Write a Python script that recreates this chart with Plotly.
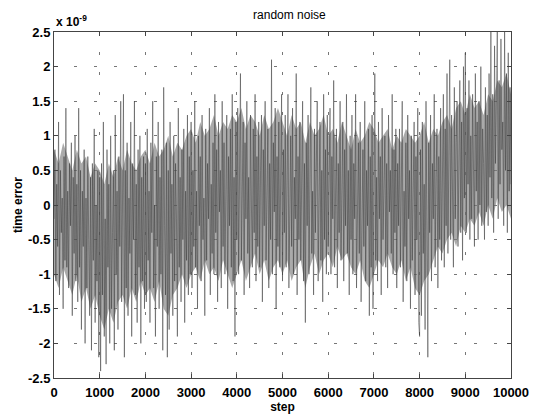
import plotly.graph_objects as go

err_0_2500 = [
    -0.2, 0.8, -1.1, 0.3, -0.6, 1.2, -1.3, 0.5, -0.4, 0.1, -1.5, 0.7, -0.8, 1.4, -0.9, 0.2, -1.2, 0.6, -0.3, 0.9, -1.6, 0.4, -0.7, 1.0, -1.1,
    0.3, -1.4, 1.4, -0.9, 0.5, -1.8, 0.2, -0.6, 0.8, -2.0, 0.1, -1.2, 0.7, -0.5, -1.6, 0.4, -2.1, 0.6, -0.8, 1.1, -1.7, 0.0, -1.1, 0.5, -2.2,
    0.4, -2.4, 0.6, -1.3, 1.2, -1.9, -0.2, -2.3, 0.8, -0.9, 0.3, -2.0, 1.0, -1.5, -0.4, 0.5, -2.1, 1.3, -1.0, 0.2, -1.8, 0.7, -0.6, 1.5, -1.4,
    -0.3, 1.6, -2.2, 0.5, -1.2, 0.9, -1.6, 0.1, -0.7, 1.2, -1.9, 0.6, -0.5, 1.5, -1.3, 0.3, -1.7, 0.8, -0.9, 1.0, -2.0, 0.4, -1.1, 0.7, -1.5,
    0.6, -1.4, 1.1, -0.8, 0.2, -1.7, 0.9, -0.4, 1.5, -1.2, 0.0, -1.9, 0.7, -0.6, 1.2, -1.5, 0.4, -1.0, 0.8, -2.1, 1.7, -0.3, -1.3, 0.9, -2.2,
]
err_2500_5000 = [
    0.5, -1.8, 1.2, -0.7, 0.3, -1.6, 1.0, -1.1, 0.6, -0.2, -1.9, 1.4, -0.9, 0.4, -1.4, 0.8, -0.5, 1.1, -1.7, 0.2, -0.8, 1.3, -1.3, 0.7, -1.0,
    1.2, -1.2, 0.5, -0.6, 1.5, -0.9, 0.2, -1.5, 1.0, -0.3, 0.7, -1.1, 1.3, -0.5, 0.1, -1.6, 1.1, -0.8, 0.6, -0.2, 1.4, -1.3, 0.3, -0.7, 0.9,
    -1.0, 1.6, -0.4, 0.8, -1.4, 1.2, -0.1, 0.5, -1.2, 1.5, -0.6, 0.9, -1.0, 0.3, 1.3, -1.5, 0.7, -0.3, 1.1, -0.9, 1.6, -1.1, 0.4, -1.9, 1.2,
    -0.5, 1.4, -1.0, 0.6, 1.9, -0.8, 0.2, 1.2, -1.3, 0.9, -0.2, 1.5, -0.7, 0.4, -1.2, 1.3, 0.0, -0.9, 1.1, -0.4, 1.6, -1.1, 0.7, -0.6, 1.2,
    -0.9, 0.5, 1.3, -1.4, 0.8, -0.3, 1.5, -0.8, 0.2, 1.1, -1.2, 0.6, -0.5, 2.1, -1.0, 0.9, -0.1, 1.4, -1.5, 0.7, -0.6, 1.2, -0.9, 0.3, 1.6,
]
err_5000_7500 = [
    -1.1, 0.8, -0.4, 1.3, -0.9, 0.5, 1.6, -1.2, 0.1, 1.0, -0.6, 1.4, -1.0, 0.4, -0.2, 1.9, -1.3, 0.7, -0.5, 1.2, -0.8, 0.3, 1.5, -1.1, 0.6,
    -1.7, 0.9, -0.3, 1.3, -1.0, 0.4, 1.7, -0.7, 0.2, -1.3, 1.1, -0.4, 0.6, 1.5, -1.1, 0.0, 1.2, -0.8, 0.5, -1.4, 1.6, -0.5, 0.8, -1.0, 1.3,
    -0.6, 0.4, 1.4, -1.0, 0.7, -0.2, 1.8, -0.9, 0.3, 1.1, -1.2, 0.6, -0.4, 1.5, -0.8, 0.1, 1.2, -1.1, 0.8, -0.3, 1.6, -0.7, 0.5, -1.3, 1.0,
    -0.5, 1.3, -1.0, 0.6, -0.2, 1.6, -1.2, 0.4, 0.9, -0.7, 1.2, -1.4, 0.2, 0.8, -0.6, 1.5, -1.1, 0.5, -0.3, 1.1, -1.6, 0.7, -0.9, 1.3, -1.5,
    0.9, 1.9, -0.8, 0.4, -1.1, 1.2, -0.2, 0.7, -1.3, 1.4, -0.5, 0.3, 1.0, -0.9, 0.6, -1.2, 1.3, -0.1, 0.5, -0.7, 1.6, -1.0, 0.8, -0.4, 1.1,
]
err_7500_10000 = [
    -1.2, 0.6, -0.3, 1.1, -0.9, 0.4, 1.5, -1.4, 0.2, -0.6, 0.9, -1.1, 1.3, -0.2, 0.5, -1.5, 1.0, -0.8, 0.3, 1.2, -1.3, 0.7, -0.5, 1.4, -1.7,
    -1.9, 0.8, -1.6, 1.2, -0.7, 0.3, -1.8, 1.5, -1.0, -2.2, 0.9, -0.4, 1.3, -1.1, 0.6, -0.2, 1.6, -0.9, 0.4, 1.1, -1.2, 0.7, -0.5, 1.4, -0.8,
    0.5, 1.6, -0.9, 1.1, -0.3, 1.9, -0.7, 0.8, 2.1, -0.5, 1.3, 0.2, -0.9, 1.7, -0.2, 0.9, 1.5, -0.6, 0.4, 1.8, -0.4, 1.2, -0.8, 2.0, 0.1,
    2.2, -0.4, 1.4, 0.3, 1.8, -0.5, 1.0, -0.2, 1.6, 0.5, -0.6, 1.9, 0.2, 1.2, -0.5, 1.5, 0.0, 2.0, -0.3, 1.1, 0.6, -0.5, 1.7, -0.1, 1.3,
    -0.3, 1.9, 0.4, 2.5, 0.1, 1.6, -0.4, 2.3, 0.6, 1.4, 2.5, -0.2, 1.8, 0.3, 2.4, 0.8, 1.2, -0.3, 2.5, 0.5, 1.9, -0.4, 2.2, 0.2, 1.7,
    0.3,
]

# dense-core envelope of the noise band, every 100 steps (units of 1e-9)
core_upper = [
    0.8, 0.6, 0.9, 0.7, 0.5, 0.8, 0.6, 0.7, 0.4, 0.6,
    0.5, 0.3, 0.6, 0.4, 0.7, 0.5, 0.8, 0.6, 0.5, 0.7,
    0.8, 0.6, 0.9, 0.7, 0.8, 1.0, 0.7, 0.9, 0.8, 1.0,
    1.1, 0.9, 1.2, 1.0, 1.1, 1.3, 1.0, 1.2, 1.1, 1.3,
    1.2, 1.4, 1.1, 1.3, 1.2, 1.0, 1.3, 1.1, 1.2, 1.4,
    1.2, 1.0, 1.3, 1.1, 1.2, 0.9, 1.2, 1.0, 1.1, 1.3,
    1.0, 1.1, 0.9, 1.2, 1.0, 0.8, 1.1, 0.9, 1.0, 1.2,
    1.1, 0.9, 1.0, 1.1, 0.8, 1.0, 0.9, 1.1, 1.0, 0.9,
    1.0, 1.2, 0.9, 1.1, 1.0, 1.2, 1.3, 1.1, 1.4, 1.5,
    1.3, 1.6, 1.4, 1.5, 1.3, 1.6, 1.5, 1.8, 1.7, 1.9,
    1.6,
]
core_lower = [
    -1.0, -1.2, -0.9, -1.1, -1.3, -1.0, -1.4, -1.2, -1.5, -1.3,
    -1.6, -1.8, -1.5, -1.7, -1.4, -1.3, -1.5, -1.2, -1.4, -1.1,
    -1.3, -1.2, -1.4, -1.1, -1.5, -1.6, -1.3, -1.2, -1.0, -1.2,
    -1.0, -0.9, -1.1, -0.8, -1.0, -0.9, -1.1, -0.8, -1.0, -1.2,
    -1.0, -0.8, -1.1, -0.9, -0.7, -1.0, -0.8, -1.1, -0.9, -0.8,
    -1.0, -0.8, -1.1, -0.9, -0.8, -1.2, -0.9, -0.7, -1.0, -0.8,
    -0.7, -0.9, -0.6, -0.8, -0.7, -0.9, -1.0, -0.8, -1.1, -1.2,
    -1.0, -0.8, -0.9, -0.7, -0.9, -1.0, -0.8, -1.1, -0.9, -1.2,
    -1.3, -1.1, -1.0, -0.8, -0.6, -0.7, -0.5, -0.4, -0.6, -0.3,
    -0.4, -0.2, -0.3, -0.1, -0.3, 0.0, -0.2, 0.1, -0.1, 0.0,
    -0.2,
]

time_error = err_0_2500 + err_2500_5000 + err_5000_7500 + err_7500_10000
step = [20 * i for i in range(len(time_error))]
core_step = [100 * i for i in range(len(core_upper))]

x_ticks = [0, 1000, 2000, 3000, 4000, 5000, 6000, 7000, 8000, 9000, 10000]
y_ticks = [-2.5, -2, -1.5, -1, -0.5, 0, 0.5, 1, 1.5, 2, 2.5]
y_tick_text = ["-2.5", "-2", "-1.5", "-1", "-0.5", "0", "0.5", "1", "1.5", "2", "2.5"]

font = "Liberation Sans, Arial, sans-serif"

fig = go.Figure()
fig.add_trace(go.Scatter(
    x=core_step, y=core_lower, mode="lines", line=dict(width=0, color="rgba(0,0,0,0)"),
    showlegend=False, hoverinfo="skip",
))
fig.add_trace(go.Scatter(
    x=core_step, y=core_upper, mode="lines", line=dict(width=0, color="rgba(0,0,0,0)"),
    fill="tonexty", fillcolor="rgba(125,125,125,0.65)",
    showlegend=False, hoverinfo="skip",
))
fig.add_trace(go.Scatter(
    x=step, y=time_error, mode="lines",
    line=dict(color="rgba(60,60,60,0.75)", width=0.7),
    showlegend=False, hoverinfo="skip",
))

axis_common = dict(
    showline=True, linecolor="#444", linewidth=1, mirror="ticks",
    ticks="inside", ticklen=4, tickcolor="#444",
    showgrid=True, gridcolor="#777", griddash="3px,17px", gridwidth=1,
    zeroline=False,
    tickfont=dict(family=font, size=13, color="black", weight="bold"),
)

fig.update_layout(
    width=541, height=420,
    margin=dict(l=54, r=19, t=32, b=37),
    paper_bgcolor="white", plot_bgcolor="white",
    title=dict(text="random noise", x=0.535, xanchor="center", y=0.975, yanchor="top",
               font=dict(family=font, size=12, color="black")),
    xaxis=dict(range=[0, 10000], tickvals=x_ticks, ticktext=[str(v) for v in x_ticks],
               ticklabelstandoff=2,
               title=dict(text="step", font=dict(family=font, size=12, color="black", weight="bold"), standoff=0),
               **axis_common),
    yaxis=dict(range=[-2.5, 2.5], tickvals=y_ticks, ticktext=y_tick_text,
               title=dict(text="time error", font=dict(family=font, size=12, color="black", weight="bold"), standoff=2),
               **axis_common),
    annotations=[dict(text="x 10<sup>-9</sup>", xref="paper", yref="paper", x=0, y=1,
                      xanchor="left", yanchor="bottom", yshift=1, showarrow=False,
                      font=dict(family=font, size=12, color="black", weight="bold"))],
)

fig.write_html("out.html")
